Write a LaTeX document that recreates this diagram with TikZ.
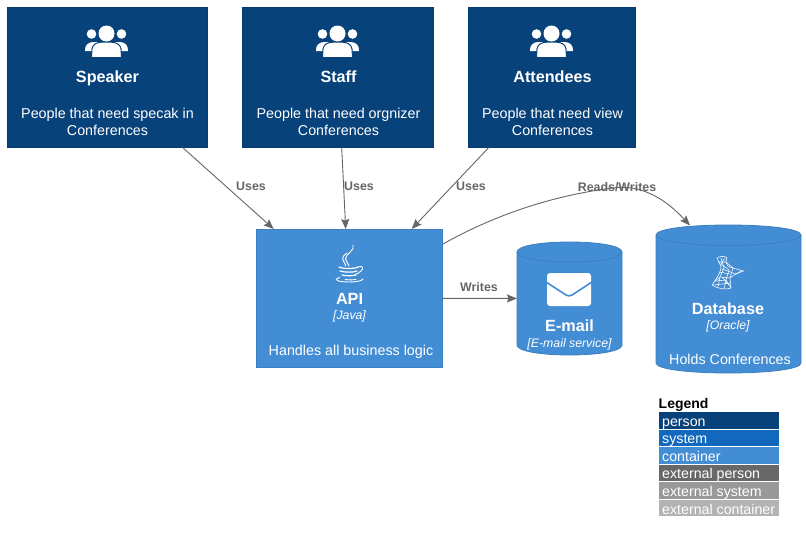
\documentclass[tikz,border=0pt]{standalone}
\usepackage{fontspec}
\setmainfont{Liberation Sans}
\usetikzlibrary{arrows.meta}
\definecolor{personc}{HTML}{08427B}
\definecolor{personb}{HTML}{073B6F}
\definecolor{systemc}{HTML}{1168BD}
\definecolor{contc}{HTML}{438DD5}
\definecolor{contb}{HTML}{3C7FC0}
\definecolor{extp}{HTML}{686868}
\definecolor{exts}{HTML}{999999}
\definecolor{extc}{HTML}{B3B3B3}
\definecolor{linec}{HTML}{666666}
\newcommand{\fs}[1]{\fontsize{#1}{#1}\selectfont}
\tikzset{
  x=1pt,y=-1pt,
  personbox/.style={draw=personb,fill=personc,line width=0.8pt,inner sep=0,outer sep=0},
  contbox/.style={draw=contb,fill=contc,line width=0.8pt,inner sep=0,outer sep=0},
  ghost/.style={inner sep=0,outer sep=0},
  ttl/.style={anchor=base,text=white,inner sep=0,font=\fs{16.2}\bfseries},
  body/.style={anchor=base,text=white,inner sep=0,font=\fs{14.3}},
  tech/.style={anchor=base,text=white,inner sep=0,font=\fs{12.3}\itshape},
  rel/.style={anchor=base,text=linec,inner sep=0,font=\fs{12.4}\bfseries},
  conn/.style={draw=linec,line width=0.9pt,-{Stealth[length=10pt,width=8pt,inset=1.5pt]}},
  legtext/.style={anchor=base west,text=white,inner sep=0,font=\fs{14.2}},
  legbar/.style={inner sep=0,outer sep=0,minimum width=120pt,minimum height=16.6pt,anchor=north west},
  cylfill/.style={draw=contb,fill=contc,line width=0.8pt},
  people/.pic={
    \fill[white] (-15,-7) circle [radius=4.8];
    \fill[white] (15,-7) circle [radius=4.8];
    \fill[white] (-21.5,10) .. controls (-22,4) and (-18,1) .. (-13,1) -- (-8,1) -- (-8,10) -- cycle;
    \fill[white] (21.5,10) .. controls (22,4) and (18,1) .. (13,1) -- (8,1) -- (8,10) -- cycle;
    \fill[white,draw=personc,line width=1pt] (-15,16.5) -- (-14.5,8) .. controls (-14,3) and (-9,1.2) .. (-5,1.2) -- (5,1.2) .. controls (9,1.2) and (14,3) .. (14.5,8) -- (15,16.5) -- cycle;
    \fill[white] (0,-7.5) circle [radius=8];
  }
}
\begin{document}
\begin{tikzpicture}
\useasboundingbox (0,0) rectangle (806,538);
\fill[white] (0,0) rectangle (806,538);

% person boxes
\node[personbox,minimum width=200.4pt,minimum height=140.6pt] (speaker) at (107.2,77.3) {};
\node[personbox,minimum width=191.4pt,minimum height=140.6pt] (staff) at (337.7,77.3) {};
\node[personbox,minimum width=167.4pt,minimum height=140.6pt] (attendees) at (551.7,77.3) {};

\pic at (106.5,41) {people};
\pic at (337.5,41) {people};
\pic at (551.5,41) {people};

\node[ttl] (speakerT) at (107.5,82) {Speaker};
\node[body] (speakerA) at (107.5,118) {People that need specak in};
\node[body] (speakerB) at (107.5,135) {Conferences};
\node[ttl] (staffT) at (338.5,82) {Staff};
\node[body] (staffA) at (338.5,118) {People that need orgnizer};
\node[body] (staffB) at (338.5,135) {Conferences};
\node[ttl] (attT) at (552.5,82) {Attendees};
\node[body] (attA) at (552.5,118) {People that need view};
\node[body] (attB) at (552.5,135) {Conferences};

% API
\node[contbox,minimum width=186.4pt,minimum height=138.6pt] (api) at (349.2,298.3) {};
\begin{scope}[draw=white,line width=0.9pt,line cap=round]
  \draw[white] (353,245) .. controls (356,250) and (345,254) .. (345.5,259) .. controls (346,262) and (349,264) .. (349,266);
  \draw[white] (347,253) .. controls (342,256) and (342,259) .. (344,262) .. controls (345,264) and (346,265) .. (345.5,266);
  \draw[white,line width=1.2pt] (339,267) .. controls (343,269) and (355,269) .. (358,267);
  \draw[white,line width=1.2pt] (340,271) .. controls (344,272.5) and (354,272.5) .. (357,271);
  \draw[white,line width=1.2pt] (342,275) .. controls (345,276) and (353,276) .. (356,275);
  \draw[white] (358,267) .. controls (363,265) and (364,269) .. (361,271) .. controls (359,273) and (357,274) .. (355,274.5);
  \draw[white] (340,277.5) .. controls (331,280) and (340,282) .. (349,282) .. controls (356,282) and (362,281) .. (363,279);
  \draw[white] (345,279.5) .. controls (349,280) and (353,280) .. (356,279.3);
\end{scope}
\node[ttl] (apiT) at (349.5,304) {API};
\node[tech] (apiS) at (349.5,319) {[Java]};
\node[body] (apiB) at (351,355) {Handles all business logic};

% E-mail cylinder
\node[ghost,minimum width=105pt,minimum height=113pt] (email) at (569.5,298.5) {};
\path[cylfill] (517,252) .. controls (517,246) and (540,242) .. (569.5,242) .. controls (599,242) and (622,246) .. (622,252)
  -- (622,345) .. controls (622,351) and (599,355) .. (569.5,355) .. controls (540,355) and (517,351) .. (517,345) -- cycle;
\draw[contb,line width=0.8pt] (517,252) .. controls (517,258) and (540,262) .. (569.5,262) .. controls (599,262) and (622,258) .. (622,252);
\fill[white,rounded corners=3pt] (547,273) rectangle (591,306);
\draw[contc,line width=1.6pt] (546,282) -- (566,295) .. controls (568,296.2) and (570,296.2) .. (572,295) -- (592,282);
\node[ttl] (emailT) at (569.5,331) {E-mail};
\node[tech] (emailS) at (569.5,347) {[E-mail service]};

% Database cylinder
\node[ghost,minimum width=145pt,minimum height=148pt] (db) at (728.5,299) {};
\path[cylfill] (656,235) .. controls (656,229) and (688,225) .. (728.5,225) .. controls (769,225) and (801,229) .. (801,235)
  -- (801,363) .. controls (801,369) and (769,373) .. (728.5,373) .. controls (688,373) and (656,369) .. (656,363) -- cycle;
\draw[contb,line width=0.8pt] (656,235) .. controls (656,241) and (688,245.5) .. (728.5,245.5) .. controls (769,245.5) and (801,241) .. (801,235);
\begin{scope}[white,line width=0.55pt]
  \draw (717,258) .. controls (720,256) and (724,256) .. (727,257.5) -- (726,262) .. controls (726,265) and (728,267) .. (733,268) -- (743.5,271) .. controls (738,273) and (733,275) .. (730,278) -- (731,288) .. controls (726,290) and (718,289) .. (712,285) .. controls (715,280) and (720,275) .. (721,268) .. controls (721,264) and (718,262) .. (717,258);
  \draw (721,258) -- (724,268) -- (720,277) -- (718,287);
  \draw (725,258) -- (721,264) -- (729,270) -- (726,280) -- (724,289);
  \draw (718,262) -- (726,262) -- (733,268) -- (730,278) -- (720,277) -- (714,282);
  \draw (722,269) -- (736,274) -- (741,271);
  \draw (716,281) -- (726,280) -- (731,288);
  \draw (713,285) -- (722,284) -- (730,283);
  \draw (719,272) -- (730,274);
  \draw (722,277) -- (729,285);
\end{scope}
\node[ttl] (dbT) at (728,314) {Database};
\node[tech] (dbS) at (728,329) {[Oracle]};
\node[body] (dbB) at (730,364) {Holds Conferences};

% connectors
\draw[conn] ([xshift=75.5pt]speaker.south) -- ([xshift=-75.5pt]api.north);
\draw[conn] ([xshift=4pt]staff.south) -- ([xshift=-3.5pt]api.north);
\draw[conn] ([xshift=-63pt]attendees.south) -- ([xshift=62.5pt]api.north);
\draw[conn] (api) -- (email);
\coordinate (apiOut) at (443,244);
\coordinate (dbIn) at (690,225.5);
\draw[conn] (apiOut) .. controls (500,212) and (560,194) .. (617,187.5) .. controls (648,185) and (672,206) .. (dbIn);

\node[rel] (u1) at (251,190.5) {Uses};
\node[rel] (u2) at (359,190.5) {Uses};
\node[rel] (u3) at (471,190.5) {Uses};
\node[rel] (w1) at (479,291.5) {Writes};
\node[rel] (rw) at (617,191) {Reads/Writes};

% legend
\node[anchor=base west,inner sep=0,font=\fs{14}\bfseries] (legT) at (658.5,408) {Legend};
\node[legbar,fill=personc] (l1) at (659,412.3) {};
\node[legbar,fill=systemc] (l2) at (659,429.8) {};
\node[legbar,fill=contc] (l3) at (659,447.3) {};
\node[legbar,fill=extp] (l4) at (659,464.8) {};
\node[legbar,fill=exts] (l5) at (659,482.3) {};
\node[legbar,fill=extc] (l6) at (659,499.8) {};
\node[legtext] (t1) at (662,426) {person};
\node[legtext] (t2) at (662,443) {system};
\node[legtext] (t3) at (662,461) {container};
\node[legtext] (t4) at (662,478) {external person};
\node[legtext] (t5) at (662,496) {external system};
\node[legtext] (t6) at (662,514) {external container};
\end{tikzpicture}
\end{document}
